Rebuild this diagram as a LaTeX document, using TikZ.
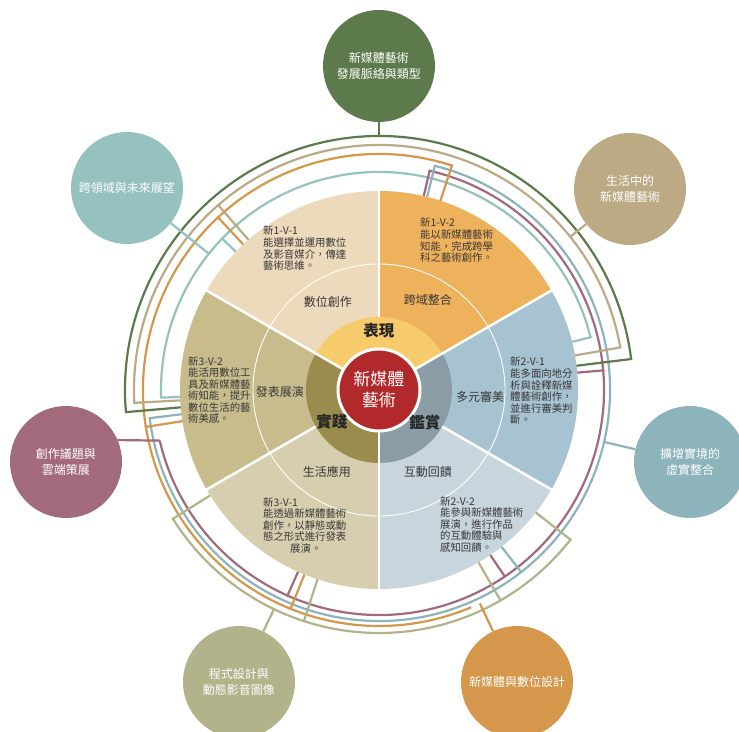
\documentclass[tikz,border=0pt]{standalone}
\usepackage{fontspec}
\setmainfont{Noto Sans CJK TC}
\definecolor{peach}{HTML}{EDD9BB}
\definecolor{orangepart}{HTML}{EEB15C}
\definecolor{skyblue}{HTML}{A7C2D0}
\definecolor{mist}{HTML}{C9D5DD}
\definecolor{sand}{HTML}{D6CEAE}
\definecolor{khaki}{HTML}{C8BC8D}
\definecolor{yellowring}{HTML}{F7CB6C}
\definecolor{slate}{HTML}{8A9CA6}
\definecolor{olive}{HTML}{9A8C4C}
\definecolor{redcore}{HTML}{B1292A}
\definecolor{lgreen}{HTML}{5D7A4C}
\definecolor{ltan}{HTML}{BBAA84}
\definecolor{lblue}{HTML}{8DB3BB}
\definecolor{lochre}{HTML}{D4974B}
\definecolor{lsage}{HTML}{B2B38B}
\definecolor{lmauve}{HTML}{A26A7B}
\definecolor{lteal}{HTML}{95C2BE}
\definecolor{textgray}{HTML}{383838}

\begin{document}
\begin{tikzpicture}[x=1pt, y=1pt,
    sat/.style={circle, minimum size=112pt, inner sep=0pt, text=white, align=center, font=\fontsize{12}{16}\selectfont},
    goal/.style={anchor=north west, align=left, inner sep=0pt, text=textgray, font=\fontsize{10.4}{11.6}\selectfont},
    area/.style={text=textgray, inner sep=0pt, font=\fontsize{12}{14}\selectfont},
    core/.style={inner sep=0pt, text=black!85, font=\bfseries\fontsize{15.5}{17}\selectfont},
    link/.style={line width=2.2pt}]
    \useasboundingbox (-379,-341) rectangle (360,390);

    % arcs around the wheel
    \foreach \c/\r/\s/\e in {lgreen/254/7/185, ltan/245/10/183, lochre/236/72/293, lteal/218/14/182,
                             lmauve/225/77/-167, lblue/231/76/-173, lsage/243/-38/-148}
        \draw[link, \c] (\s:\r) arc (\s:\e:\r);
    \foreach \c/\r/\a in {lgreen/254/7, lgreen/254/185, ltan/245/10, ltan/245/183, ltan/245/131,
                          lochre/236/72, lochre/236/133, lochre/236/189, lochre/236/-112,
                          lteal/218/14, lteal/218/182, lteal/218/136,
                          lmauve/225/77, lmauve/225/5, lmauve/225/-56, lmauve/225/-114,
                          lblue/231/76, lblue/231/-173, lblue/231/-52,
                          lsage/243/-38, lsage/243/-148, lsage/243/-60, lsage/243/-108}
        \draw[link, \c, line cap=rect] (\a:\r) -- (\a:199);

    % outer topics
    \node [sat, fill=lgreen] (topsat) at (0,324) {新媒體藝術\\發展脈絡與類型};
    \node [sat, fill=ltan] (lifesat) at (251,201) {生活中的\\新媒體藝術};
    \node [sat, fill=lblue] (arsat) at (311,-72) {擴增實境的\\虛實整合};
    \node [sat, fill=lochre] (designsat) at (138,-292) {新媒體與數位設計};
    \node [sat, fill=lsage] (codesat) at (-140,-292) {程式設計與\\動態影音圖像};
    \node [sat, fill=lmauve] (cloudsat) at (-313,-72) {創作議題與\\雲端策展};
    \node [sat, fill=lteal] (futuresat) at (-252,202) {跨領域與未來展望};

    \coordinate (jG) at (90:254);
    \coordinate (jT) at (38.7:245);
    \coordinate (jB) at (-13:231);
    \coordinate (jO) at (-64.7:236);
    \coordinate (jS) at (-115.6:243);
    \coordinate (jM) at (193:225);
    \coordinate (jC) at (141.3:218);
    \draw[link, lgreen] (topsat) -- (jG);
    \draw[link, ltan] (lifesat) -- (jT);
    \draw[link, lblue] (arsat) -- (jB);
    \draw[link, lochre] (designsat) -- (jO);
    \draw[link, lsage] (codesat) -- (jS);
    \draw[link, lmauve] (cloudsat.23) -- (jM);
    \draw[link, lteal] (futuresat) -- (jC);

    % the wheel
    \foreach \a/\c in {90/peach, 30/orangepart, -30/skyblue, -90/mist, -150/sand, 150/khaki}
        \fill[\c] (0,0) -- (\a:199) arc (\a:\a+60:199) -- cycle;
    \draw[white, line width=0.9pt] (0,0) circle (126);
    \foreach \a/\c in {30/yellowring, -90/slate, 150/olive}
        \fill[\c] (0,0) -- (\a:73) arc (\a:\a+120:73) -- cycle;
    \foreach \a in {30,150,270}
        \draw[white, line width=2.5pt] (0,0) -- (\a:200);
    \foreach \a in {90,210,330}
        \draw[white, line width=2.5pt] (\a:73) -- (\a:200);
    \node [circle, fill=redcore, draw=white, line width=3pt, minimum size=82pt, inner sep=0pt,
           text=white, align=center, font=\fontsize{17}{21}\selectfont] (center) at (0,0) {新媒體\\藝術};

    \node [core] (show) at (0,59) {表現};
    \node [core] (practice) at (-47,-32) {實踐};
    \node [core] (appreciate) at (46,-33) {鑑賞};

    \node [area] (digital) at (-51,88) {數位創作};
    \node [area] (cross) at (49,90) {跨域整合};
    \node [area] (aesthetic) at (101,-7) {多元審美};
    \node [area] (feedback) at (49,-82) {互動回饋};
    \node [area] (daily) at (-52,-82) {生活應用};
    \node [area] (exhibit) at (-99,-2) {發表展演};

    \node [goal] (g11) at (-116,164) {新1-V-1\\能選擇並運用數位\\及影音媒介，傳達\\藝術思維。};
    \node [goal] (g12) at (41,172) {新1-V-2\\能以新媒體藝術\\知能，完成跨學\\科之藝術創作。};
    \node [goal] (g21) at (131,33) {新2-V-1\\能多面向地分\\析與詮釋新媒\\體藝術創作，\\並進行審美判\\斷。};
    \node [goal] (g22) at (61,-106) {新2-V-2\\能參與新媒體藝術\\展演，進行作品\\的互動體驗與\\感知回饋。};
    \node [goal] (g31) at (-116,-107) {新3-V-1\\能透過新媒體藝術\\創作，以靜態或動\\態之形式進行發表\\\hspace*{2.6em}展演。};
    \node [goal] (g32) at (-191,34) {新3-V-2\\能活用數位工\\具及新媒體藝\\術知能，提升\\數位生活的藝\\術美感。};
\end{tikzpicture}
\end{document}
